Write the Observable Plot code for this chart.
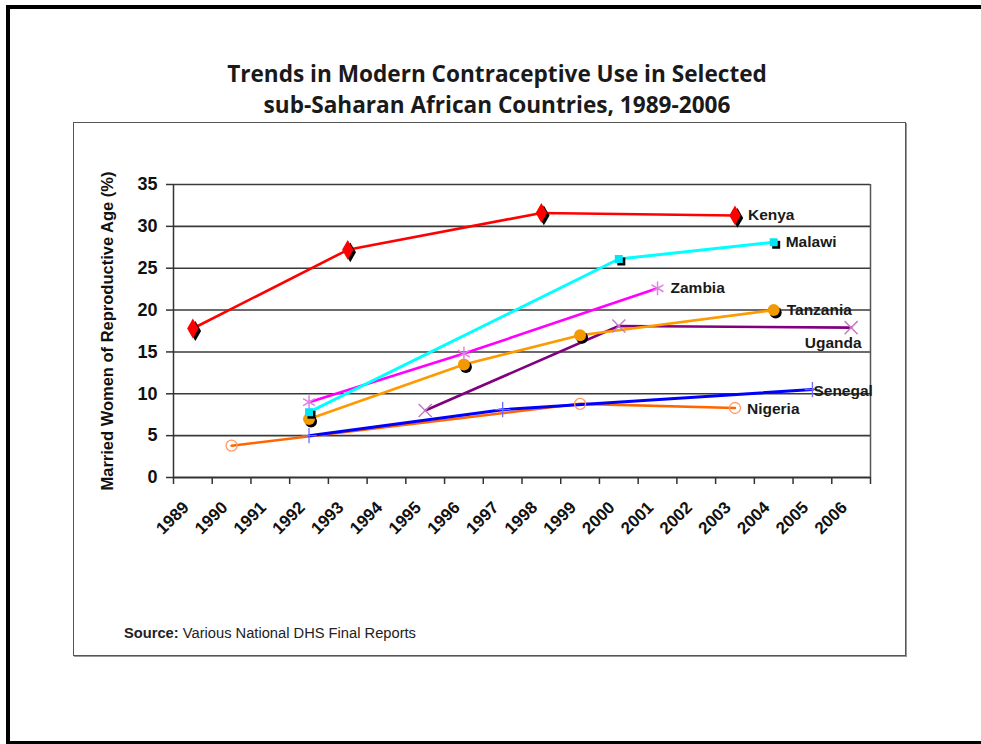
<!DOCTYPE html>
<html>
<head>
<meta charset="utf-8">
<script src="https://cdn.jsdelivr.net/npm/d3@7"></script>
<script src="https://cdn.jsdelivr.net/npm/@observablehq/plot@0.6"></script>
<style>
  html, body { margin: 0; padding: 0; background: #fff; }
  body { width: 981px; height: 744px; position: relative; overflow: hidden; }
  #slide { position: absolute; left: 6px; top: 5px; width: 1000px; height: 740px; box-sizing: border-box;
           border-left: 4px solid #000; border-top: 4px solid #000; border-bottom: 4px solid #000; }
  .title { position: absolute; left: 0; width: 994px; text-align: center; font-family: "Open Sans", Lato, sans-serif;
           font-weight: bold; font-size: 22.6px; color: #1a1a1a; white-space: nowrap; }
  #box { position: absolute; left: 73px; top: 122px; width: 833px; height: 534px; box-sizing: border-box;
         border: 1px solid #555; box-shadow: 1px 1px 0 #999; }
  #chart { position: absolute; left: 73px; top: 122px; }
  #source { position: absolute; left: 124px; top: 625px; font-family: Arial, "Liberation Sans", sans-serif;
            font-size: 14.7px; color: #222; white-space: nowrap; }
</style>
</head>
<body>
<div id="slide"></div>
<div class="title" style="top:58px">Trends in Modern Contraceptive Use in Selected</div>
<div class="title" style="top:89px">sub-Saharan African Countries, 1989-2006</div>
<div id="box"></div>
<div id="chart"></div>
<div id="source"><b>Source:</b> Various National DHS Final Reports</div>
<script>
// ---- data ----
const yearLabels = ["1989","1990","1991","1992","1993","1994","1995","1996","1997","1998","1999","2000","2001","2002","2003","2004","2005","2006"];
const yTicks = [0, 5, 10, 15, 20, 25, 30, 35];
const yLabel = "Married Women of Reproductive Age (%)";

const kenyaYears = [1989, 1993, 1998, 2003];
const kenyaValues = [17.8, 27.2, 31.6, 31.3];
const malawiYears = [1992, 2000, 2004];
const malawiValues = [7.8, 26.1, 28.1];
const zambiaYears = [1992, 1996, 2001];
const zambiaValues = [9.0, 14.8, 22.6];
const tanzaniaYears = [1992, 1996, 1999, 2004];
const tanzaniaValues = [7.0, 13.5, 17.0, 20.0];
const ugandaYears = [1995, 2000, 2006];
const ugandaValues = [8.0, 18.1, 17.9];
const senegalYears = [1992, 1997, 2005];
const senegalValues = [5.0, 8.1, 10.5];
const nigeriaYears = [1990, 1999, 2003];
const nigeriaValues = [3.8, 8.8, 8.3];

const rows = (name, ys, vs) => ys.map((yr, i) => ({country: name, year: yr, value: vs[i]}));
const kenya = rows("Kenya", kenyaYears, kenyaValues);
const malawi = rows("Malawi", malawiYears, malawiValues);
const zambia = rows("Zambia", zambiaYears, zambiaValues);
const tanzania = rows("Tanzania", tanzaniaYears, tanzaniaValues);
const uganda = rows("Uganda", ugandaYears, ugandaValues);
const senegal = rows("Senegal", senegalYears, senegalValues);
const nigeria = rows("Nigeria", nigeriaYears, nigeriaValues);

const bounds = yearLabels.map(d => +d - 0.5).concat([+yearLabels[yearLabels.length - 1] + 0.5]);
const grid = yTicks.filter(d => d > 0);
const xy = {x: "year", y: "value"};
const last = a => [a[a.length - 1]];
const lab = (a, o) => Plot.text(last(a), {x: "year", y: "value", text: "country", fontWeight: "bold", fontSize: 15.5,
  fill: "#1a1a1a", textAnchor: "start", ...o});

const chart = Plot.plot({
  width: 833, height: 440,
  marginLeft: 100, marginRight: 36, marginTop: 62, marginBottom: 85,
  x: {domain: [bounds[0], bounds[bounds.length - 1]], axis: null},
  y: {domain: [0, 35], axis: null},
  style: {fontFamily: "Arial, 'Liberation Sans', sans-serif", background: "transparent", overflow: "visible"},
  marks: [
    Plot.ruleY(grid, {stroke: "#3a3a3a", strokeWidth: 1.6}),
    Plot.ruleX([bounds[bounds.length - 1]], {y1: 0, y2: 35, stroke: "#555", strokeWidth: 1.5}),
    Plot.ruleX([bounds[0]], {y1: 0, y2: 35, stroke: "#333", strokeWidth: 1.5}),
    Plot.ruleY([0], {stroke: "#333", strokeWidth: 2}),
    Plot.axisY({ticks: yTicks, tickSize: 7, tickFormat: () => "", stroke: "#333", strokeWidth: 1.5, label: null}),
    Plot.axisX({ticks: bounds, tickSize: 7, tickFormat: () => "", stroke: "#333", strokeWidth: 1.5, label: null}),
    Plot.text(yTicks, {y: d => d, frameAnchor: "left", dx: -16, textAnchor: "end", fontWeight: "bold", fontSize: 18, fill: "#111"}),
    Plot.text(yearLabels, {x: d => +d, frameAnchor: "bottom", dx: -3, dy: 31, rotate: -45, textAnchor: "end",
      fontWeight: "bold", fontSize: 17, fill: "#111"}),
    Plot.text([yLabel], {frameAnchor: "left", dx: -66, rotate: -90, textAnchor: "middle", fontWeight: "bold", fontSize: 16.5, fill: "#111"}),

    // lines
    Plot.line(nigeria, {...xy, stroke: "#FF6600", strokeWidth: 2.6}),
    Plot.line(senegal, {...xy, stroke: "#0000FF", strokeWidth: 3}),
    Plot.line(uganda, {...xy, stroke: "#800080", strokeWidth: 2.6}),
    Plot.line(tanzania, {...xy, stroke: "#FF9900", strokeWidth: 2.6}),
    Plot.line(zambia, {...xy, stroke: "#FF00FF", strokeWidth: 2.6}),
    Plot.line(malawi, {...xy, stroke: "#00FFFF", strokeWidth: 3}),
    Plot.line(kenya, {...xy, stroke: "#FF0000", strokeWidth: 2.6}),

    // markers
    Plot.dot(nigeria, {...xy, symbol: "circle", r: 5.5, stroke: "#FF9966", strokeWidth: 1.3, fill: "none"}),
    Plot.dot(senegal, {...xy, symbol: "plus", r: 5, stroke: "#6A6AFF", strokeWidth: 1.3}),
    Plot.dot(uganda, {...xy, symbol: "times", r: 6, stroke: "#C080C0", strokeWidth: 1.5}),
    Plot.dot(tanzania, {...xy, symbol: "circle", r: 6, fill: "#000", dx: 2, dy: 2.5}),
    Plot.dot(tanzania, {...xy, symbol: "circle", r: 6, fill: "#F39A00"}),
    Plot.dot(zambia, {...xy, symbol: "asterisk", r: 6.5, stroke: "#E27FE2", strokeWidth: 1.5}),
    Plot.dot(malawi, {...xy, symbol: "square", r: 4.5, fill: "#000", dx: 2.5, dy: 2.5}),
    Plot.dot(malawi, {...xy, symbol: "square", r: 4.5, fill: "#00E5F5"}),
    Plot.dot(kenya, {...xy, symbol: "diamond", r: 6, fill: "#000", dx: 2.5, dy: 2.5}),
    Plot.dot(kenya, {...xy, symbol: "diamond", r: 6, fill: "#FF0000"}),

    // labels
    lab(kenya, {dx: 13}),
    lab(malawi, {dx: 12}),
    lab(zambia, {dx: 13}),
    lab(tanzania, {dx: 13}),
    lab(uganda, {dx: -18, dy: 15, textAnchor: "middle"}),
    lab(senegal, {dx: 1, dy: 1}),
    lab(nigeria, {dx: 12, dy: 1})
  ]
});
document.getElementById("chart").appendChild(chart);
</script>
</body>
</html>
